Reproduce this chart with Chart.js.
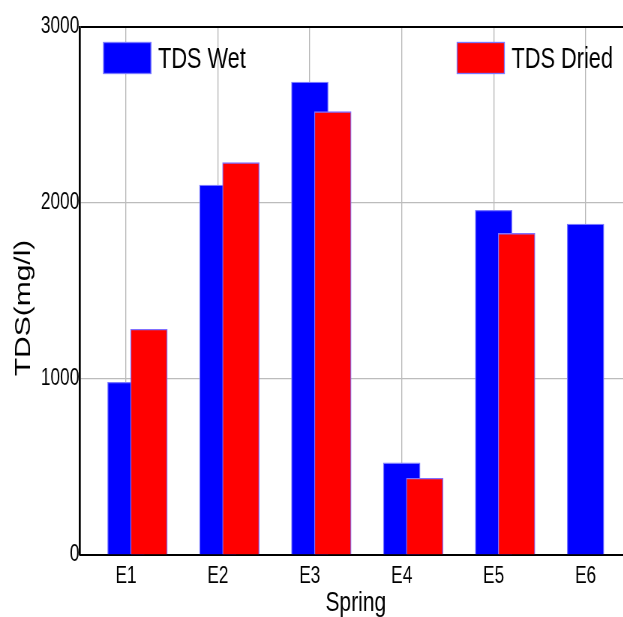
<!DOCTYPE html>
<html>
<head>
<meta charset="utf-8">
<script src="https://cdn.jsdelivr.net/npm/chart.js@4"></script>
<style>
  html, body { margin: 0; padding: 0; overflow: hidden; background: #fff; }
  /* the original picture is squeezed sideways, so draw wide and squeeze */
  #bar { display: block; transform: scaleX(0.75); transform-origin: 0 0; }
</style>
</head>
<body>
<canvas id="bar" width="842" height="617"></canvas>
<script>
// values
const springs = ['E1', 'E2', 'E3', 'E4', 'E5', 'E6'];
const tdsWet = [981, 2102, 2687, 523, 1958, 1880];
const tdsDried = [1282, 2229, 2519, 436, 1827, null];
const yTicks = [0, 1000, 2000, 3000];

const FONT = "'Liberation Sans', Arial, sans-serif";
const DRIED_SHIFT = 0.25; // dried bar sits a quarter step right of the wet one

function toPoints(values, shift) {
    return values.map((v, i) => ({ x: i + shift, y: v }));
}

const boxLegend = {
    id: 'boxLegend',
    afterDraw(chart) {
        const ctx = chart.ctx;
        const area = chart.chartArea;
        const spots = [area.left + 31, area.right - 233];
        ctx.save();
        ctx.font = '29px ' + FONT;
        ctx.textBaseline = 'alphabetic';
        ctx.textAlign = 'left';
        chart.data.datasets.forEach((ds, i) => {
            const x = spots[i];
            ctx.fillStyle = ds.backgroundColor;
            ctx.fillRect(x, 42, 64, 32);
            ctx.strokeStyle = '#7878ff';
            ctx.lineWidth = 1.3;
            ctx.strokeRect(x + 0.5, 42.5, 63, 31);
            ctx.fillStyle = '#000';
            ctx.fillText(ds.label, x + 73, 68);
        });
        // y axis title
        ctx.translate(32, 308);
        ctx.rotate(-Math.PI / 2);
        ctx.font = '30px ' + FONT;
        ctx.textAlign = 'center';
        ctx.textBaseline = 'middle';
        ctx.fillText('TDS(mg/l)', 0, 0);
        ctx.restore();
    }
};

var chart = new Chart(document.getElementById('bar').getContext('2d'), {
    type: 'bar',
    data: {
        datasets: [{
            label: 'TDS Wet',
            data: toPoints(tdsWet, 0),
            backgroundColor: '#0000ff',
            borderColor: '#7878ff',
            borderWidth: 1.3,
            order: 1
        }, {
            label: 'TDS Dried',
            data: toPoints(tdsDried, DRIED_SHIFT),
            backgroundColor: '#ff0000',
            borderColor: '#8070ff',
            borderWidth: 1.3,
            order: 0
        }]
    },
    options: {
        responsive: false,
        animation: false,
        devicePixelRatio: 1,
        grouped: false,
        barThickness: 49,
        layout: { padding: { top: 27, right: 0, left: 0, bottom: 0 } },
        plugins: {
            legend: { display: false },
            tooltip: { enabled: false }
        },
        scales: {
            x: {
                type: 'linear',
                min: -0.5,
                max: 5.5,
                offset: false,
                afterBuildTicks: s => { s.ticks = springs.map((c, i) => ({ value: i })); },
                afterFit: s => { s.height = 62; },
                ticks: {
                    callback: v => springs[v],
                    font: { family: FONT, size: 23, lineHeight: 1 },
                    color: '#000',
                    padding: 10,
                    autoSkip: false,
                    maxRotation: 0
                },
                grid: { color: '#b8b8b8', lineWidth: 1.33, drawTicks: false, offset: false },
                border: { color: '#000', width: 2 },
                title: {
                    display: true,
                    text: 'Spring',
                    color: '#000',
                    font: { family: FONT, size: 28, lineHeight: 1 },
                    padding: { top: 0, bottom: 0 }
                }
            },
            y: {
                min: 0,
                max: 3000,
                afterBuildTicks: s => { s.ticks = yTicks.map(v => ({ value: v })); },
                afterFit: s => { s.width = 106.7; },
                ticks: {
                    callback: v => String(v),
                    font: { family: FONT, size: 23, lineHeight: 1 },
                    color: '#000',
                    padding: 1
                },
                grid: {
                    drawTicks: false,
                    color: c => c.tick.value === 3000 ? '#000' : '#bcbcbc',
                    lineWidth: c => c.tick.value === 3000 ? 2 : 1.3
                },
                border: { color: '#000', width: 2.7 }
            }
        }
    },
    plugins: [boxLegend]
});
</script>
</body>
</html>
